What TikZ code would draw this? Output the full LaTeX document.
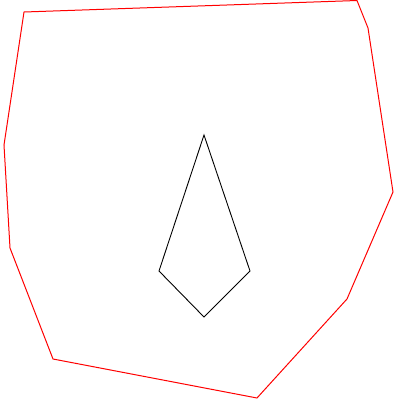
\documentclass[tikz,border=0pt]{standalone}
\begin{document}
\begin{tikzpicture}[x=1pt,y=-1pt,
  outer/.style={draw=red,line width=1pt,line join=miter},
  kite/.style={draw=black,line width=0.9pt,line join=miter}]
\useasboundingbox[fill=white] (0,0) rectangle (400,400);
\draw[outer] (24,12) -- (357,0.5) -- (368,28) -- (393,192) -- (347,299) -- (257,398) -- (53,359) -- (10,248) -- (4,145) -- cycle;
\draw[kite] (204,135) -- (250,271) -- (204,317) -- (159,271) -- cycle;
\end{tikzpicture}
\end{document}
